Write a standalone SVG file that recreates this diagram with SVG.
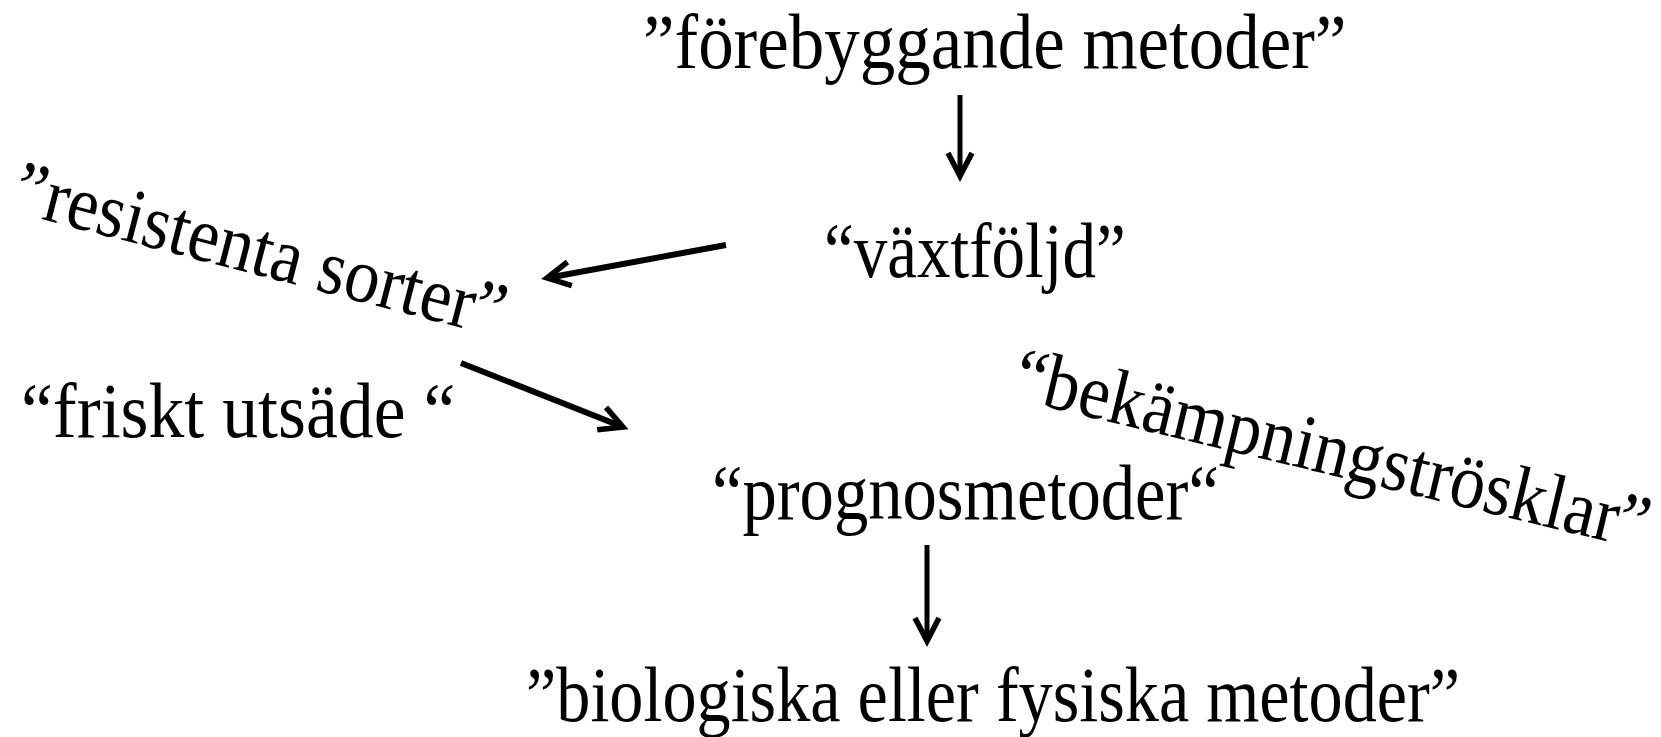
<svg xmlns="http://www.w3.org/2000/svg" width="1661" height="737" viewBox="0 0 1661 737">
<style>
.t{font-family:"Liberation Serif","Times New Roman",serif;font-size:78px;fill:#000}
.c{fill:none;stroke:#000;stroke-width:5}
.c2{fill:none;stroke:#000;stroke-width:6}
</style>
<defs>
<marker id="ah" viewBox="-30 -16 40 32" refX="0" refY="0" markerWidth="40" markerHeight="32" markerUnits="userSpaceOnUse" orient="auto">
<path d="M-23,-12 L0,0 L-23,12" fill="none" stroke="#000" stroke-width="5.5"/>
</marker>
</defs>
<rect width="1661" height="737" fill="#fff"/>
<g id="n-forebyggande" transform="translate(643 68) scale(0.91 1)"><text class="t">”förebyggande metoder”</text></g>
<g id="n-vaxtfoljd" transform="translate(824 277) scale(0.86 1)"><text class="t">“växtföljd”</text></g>
<g id="n-resistenta" transform="translate(10 211) rotate(14.5) scale(0.9 1)"><text class="t">”resistenta sorter”</text></g>
<g id="n-friskt" transform="translate(21 437) scale(0.92 1)"><text class="t">“friskt utsäde “</text></g>
<g id="n-bekampning" transform="translate(1010 398) rotate(13.5) scale(0.9 1)"><text class="t">“bekämpningströsklar”</text></g>
<g id="n-prognos" transform="translate(712 519) scale(0.88 1)"><text class="t">“prognosmetoder“</text></g>
<g id="n-biologiska" transform="translate(526 721) scale(0.875 1)"><text class="t">”biologiska eller fysiska metoder”</text></g>
<g id="connectors">
<line class="c" x1="960" y1="95" x2="960" y2="176" marker-end="url(#ah)"/>
<line class="c2" x1="726" y1="245" x2="547" y2="278" marker-end="url(#ah)"/>
<line class="c2" x1="461" y1="363" x2="623" y2="427" marker-end="url(#ah)"/>
<line class="c" x1="927" y1="545" x2="927" y2="641" marker-end="url(#ah)"/>
</g>
</svg>
